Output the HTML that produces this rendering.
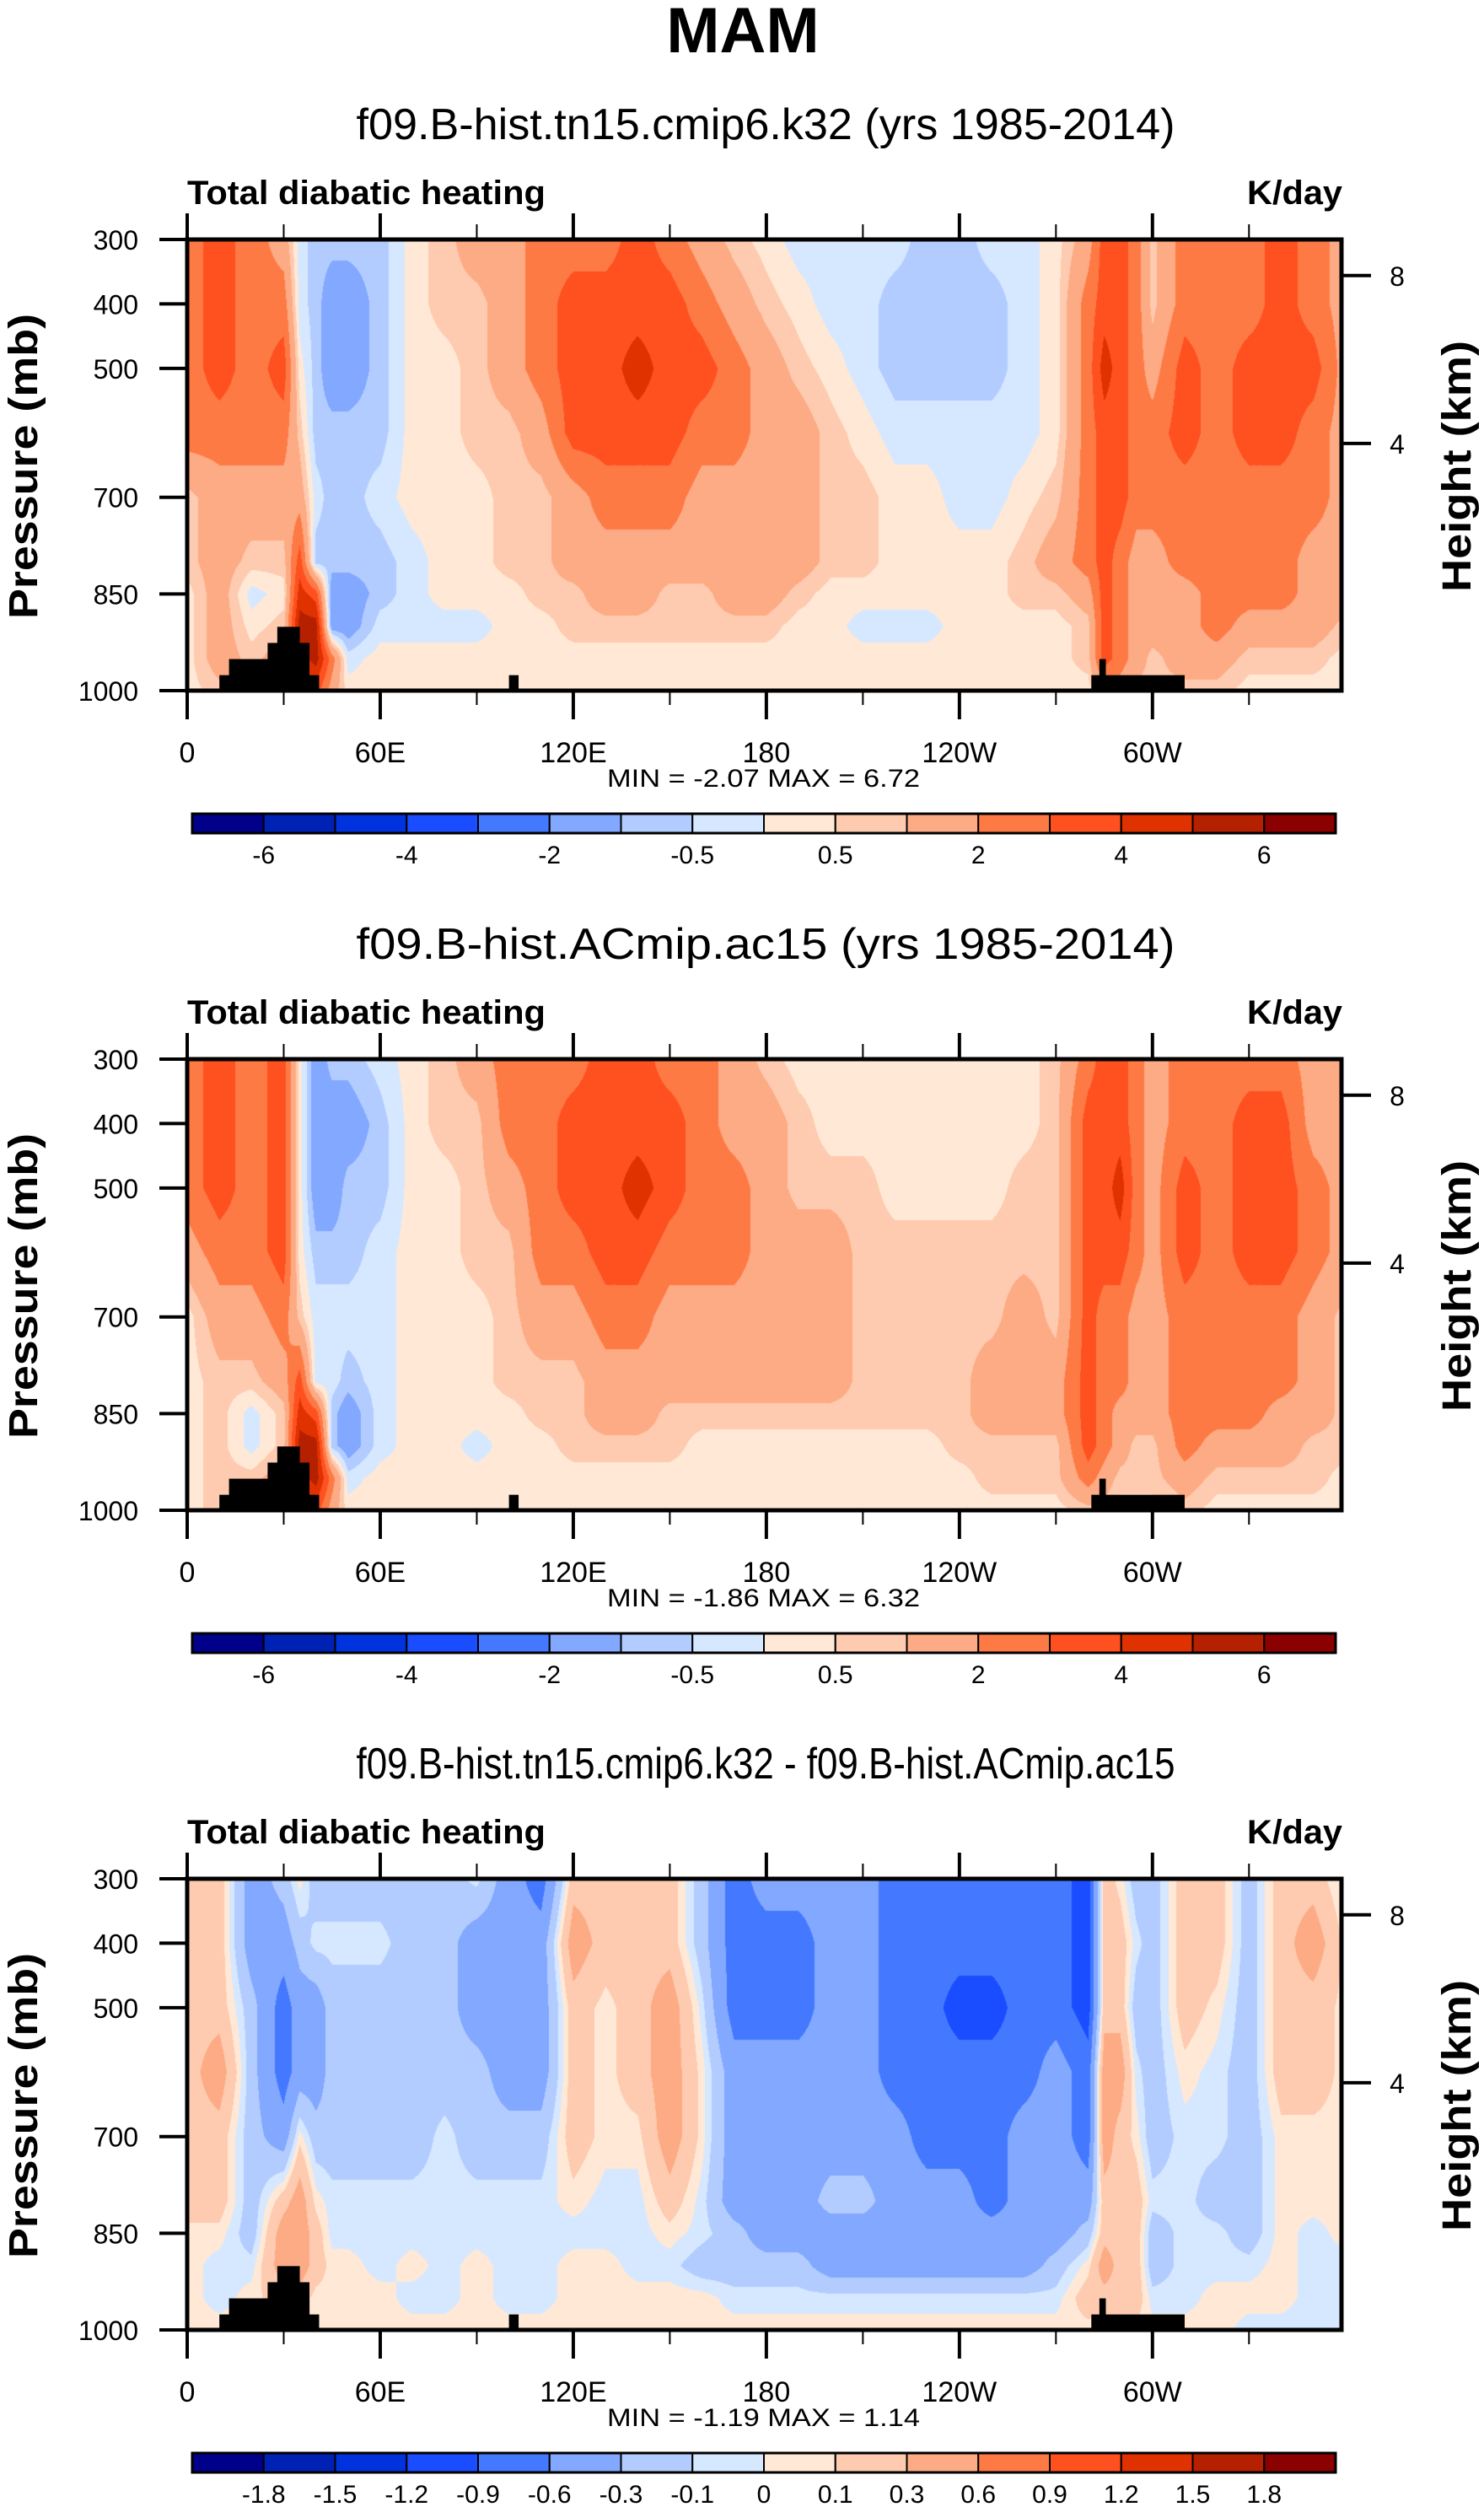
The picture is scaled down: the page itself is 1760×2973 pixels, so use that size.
<!DOCTYPE html>
<html><head><meta charset="utf-8">
<style>
html,body{margin:0;padding:0;background:#fff;}
body{width:1760px;height:2973px;overflow:hidden;position:relative;font-family:"Liberation Sans",sans-serif;}
canvas{position:absolute;}
svg{position:absolute;left:0;top:0;}
</style></head>
<body>
<canvas id="c0" width="1369" height="535" style="left:222px;top:284px"></canvas>
<canvas id="c1" width="1369" height="535" style="left:222px;top:1256px"></canvas>
<canvas id="c2" width="1369" height="535" style="left:222px;top:2228px"></canvas>
<svg id="ov" width="1760" height="2973">
<text x="881" y="62" text-anchor="middle" font-size="76" font-weight="bold" font-family="Liberation Sans, sans-serif">MAM</text>
</svg>
<script>
const lons=[0,10,20,30,35,40,45,50,60,70,80,90,100,110,120,130,140,150,160,170,180,190,200,210,220,230,240,250,260,270,280,285,290,295,300,310,320,330,340,350,360];
const pressures=[300,400,500,600,700,800,850,900,950,1000];
const heatCtl=[
[2.5,2.5,2.5,2.5,0.75,0.75,0.25,0.25,0.25,0.25],
[3.5,3.5,3.5,2.5,1.5,1.5,1.5,1.5,1.5,0.75],
[2.5,2.5,2.5,2.5,1.5,0.75,-0.25,0.25,0.75,0.75],
[1.5,2.5,3.5,2.5,1.5,0.75,0.25,0.75,1.5,1.5],
[-0.25,-0.25,0.25,0.75,1.5,3.5,4.5,5.5,4.5,2.5],
[-0.75,-0.75,-0.75,-0.75,-0.25,-0.75,3.5,5.5,5.5,3.5],
[-0.75,-1.5,-1.5,-0.75,-0.75,-0.75,-1.5,-1.5,2.5,1.5],
[-0.75,-1.5,-1.5,-0.75,-0.75,-0.75,-1.5,-1.5,-0.25,0.25],
[-0.75,-0.75,-0.75,-0.75,-0.25,-0.75,-0.75,-0.25,0.25,0.25],
[0.25,0.25,0.25,0.25,0.25,-0.25,-0.25,-0.25,0.25,0.25],
[0.75,0.75,0.25,0.25,0.25,0.25,0.25,-0.25,0.25,0.25],
[1.5,0.75,0.75,0.75,0.25,0.25,0.25,-0.25,0.25,0.25],
[1.5,1.5,1.5,0.75,0.75,0.75,0.25,0.25,0.25,0.25],
[2.5,2.5,2.5,1.5,0.75,0.75,0.75,0.25,0.25,0.25],
[2.5,3.5,3.5,3.5,1.5,1.5,0.75,0.75,0.25,0.25],
[2.5,3.5,3.5,3.5,2.5,1.5,1.5,0.75,0.25,0.25],
[3.5,3.5,4.5,3.5,2.5,1.5,1.5,0.75,0.25,0.25],
[2.5,3.5,3.5,3.5,2.5,1.5,0.75,0.75,0.25,0.25],
[1.5,2.5,3.5,2.5,1.5,1.5,0.75,0.75,0.25,0.25],
[0.75,1.5,2.5,2.5,1.5,1.5,1.5,0.75,0.25,0.25],
[0.25,0.75,1.5,1.5,1.5,1.5,1.5,0.75,0.25,0.25],
[-0.25,0.25,0.75,1.5,1.5,1.5,0.75,0.25,0.25,0.25],
[-0.25,-0.25,0.25,0.75,0.75,0.75,0.25,0.25,0.25,0.25],
[-0.25,-0.25,-0.25,0.25,0.75,0.75,0.25,-0.25,0.25,0.25],
[-0.25,-0.75,-0.75,-0.25,0.25,0.25,0.25,-0.25,0.25,0.25],
[-0.75,-0.75,-0.75,-0.25,0.25,0.25,0.25,-0.25,0.25,0.25],
[-0.75,-0.75,-0.75,-0.25,-0.25,0.25,0.25,0.25,0.25,0.25],
[-0.25,-0.75,-0.75,-0.25,-0.25,0.25,0.25,0.25,0.25,0.25],
[-0.25,-0.25,-0.25,-0.25,0.25,0.75,0.75,0.25,0.25,0.25],
[0.25,0.25,0.25,0.25,0.75,1.5,0.75,0.25,0.25,0.25],
[1.5,2.5,2.5,2.5,2.5,2.5,1.5,0.75,0.75,0.25],
[3.5,3.5,4.5,3.5,3.5,3.5,3.5,3.5,3.5,1.5],
[3.5,3.5,3.5,3.5,3.5,2.5,2.5,2.5,2.5,1.5],
[2.5,2.5,2.5,2.5,2.5,1.5,1.5,1.5,1.5,0.75],
[0.75,0.75,1.5,2.5,2.5,1.5,1.5,1.5,0.75,0.75],
[2.5,2.5,3.5,3.5,2.5,2.5,1.5,1.5,1.5,0.75],
[2.5,2.5,2.5,2.5,2.5,2.5,2.5,2.5,1.5,0.75],
[2.5,2.5,3.5,3.5,2.5,2.5,2.5,1.5,0.75,0.25],
[3.5,3.5,3.5,3.5,2.5,2.5,2.5,1.5,0.75,0.25],
[2.5,2.5,3.5,2.5,2.5,1.5,1.5,1.5,0.75,0.25],
[1.5,1.5,1.5,1.5,1.5,1.5,1.5,0.75,0.25,0.25]
];
const heatExp=[
[2.5,2.5,2.5,1.5,0.25,0.25,0.25,0.25,0.25,0.25],
[3.5,3.5,3.5,2.5,1.5,0.75,0.75,0.75,0.75,0.75],
[2.5,2.5,2.5,2.5,1.5,0.75,-0.25,-0.25,0.75,0.75],
[3.5,3.5,3.5,3.5,2.5,1.5,0.75,0.75,1.5,1.5],
[0.25,0.25,0.25,0.25,0.75,3.5,4.5,5.5,4.5,2.5],
[-1.5,-1.5,-1.5,-0.75,-0.25,-0.25,3.5,5.5,5.5,3.5],
[-0.75,-1.5,-1.5,-0.75,-0.25,-0.25,-0.75,-0.75,2.5,1.5],
[-0.75,-1.5,-0.75,-0.75,-0.25,-0.75,-1.5,-1.5,-0.25,0.25],
[-0.25,-0.75,-0.75,-0.25,-0.25,-0.25,-0.25,-0.25,0.25,0.25],
[0.25,0.25,0.25,0.25,0.25,0.25,0.25,0.25,0.25,0.25],
[0.75,0.75,0.25,0.25,0.25,0.25,0.25,0.25,0.25,0.25],
[1.5,0.75,0.75,0.75,0.25,0.25,0.25,-0.25,0.25,0.25],
[2.5,2.5,1.5,0.75,0.75,0.75,0.25,0.25,0.25,0.25],
[2.5,2.5,2.5,2.5,1.5,0.75,0.75,0.25,0.25,0.25],
[2.5,3.5,3.5,2.5,1.5,0.75,0.75,0.75,0.25,0.25],
[3.5,3.5,3.5,3.5,2.5,1.5,1.5,0.75,0.25,0.25],
[3.5,3.5,4.5,3.5,2.5,1.5,1.5,0.75,0.25,0.25],
[2.5,3.5,3.5,2.5,1.5,1.5,0.75,0.75,0.25,0.25],
[2.5,2.5,2.5,2.5,1.5,1.5,0.75,0.25,0.25,0.25],
[1.5,1.5,2.5,2.5,1.5,1.5,0.75,0.25,0.25,0.25],
[0.75,1.5,1.5,1.5,1.5,1.5,0.75,0.25,0.25,0.25],
[0.25,0.75,0.75,1.5,1.5,1.5,0.75,0.25,0.25,0.25],
[0.25,0.25,0.75,1.5,1.5,1.5,0.75,0.25,0.25,0.25],
[0.25,0.25,0.75,0.75,0.75,0.75,0.75,0.25,0.25,0.25],
[0.25,0.25,0.25,0.75,0.75,0.75,0.75,0.25,0.25,0.25],
[0.25,0.25,0.25,0.75,0.75,0.75,0.75,0.25,0.25,0.25],
[0.25,0.25,0.25,0.75,0.75,0.75,0.75,0.75,0.25,0.25],
[0.25,0.25,0.25,0.75,0.75,1.5,1.5,0.75,0.75,0.25],
[0.25,0.25,0.75,0.75,1.5,1.5,1.5,0.75,0.75,0.25],
[0.75,0.75,0.75,0.75,0.75,1.5,1.5,0.75,0.75,0.25],
[2.5,3.5,3.5,3.5,3.5,3.5,3.5,3.5,2.5,0.75],
[3.5,3.5,3.5,3.5,2.5,2.5,2.5,2.5,1.5,0.75],
[3.5,3.5,4.5,3.5,2.5,2.5,1.5,1.5,0.75,0.25],
[2.5,2.5,2.5,2.5,1.5,1.5,1.5,0.75,0.75,0.25],
[1.5,1.5,1.5,1.5,1.5,1.5,1.5,0.75,0.75,0.25],
[2.5,2.5,3.5,3.5,2.5,2.5,2.5,2.5,1.5,0.75],
[2.5,2.5,2.5,2.5,2.5,2.5,2.5,1.5,0.75,0.25],
[2.5,3.5,3.5,3.5,2.5,2.5,2.5,1.5,0.75,0.25],
[2.5,3.5,3.5,3.5,2.5,2.5,1.5,1.5,0.75,0.25],
[1.5,1.5,2.5,2.5,1.5,1.5,1.5,0.75,0.75,0.25],
[1.5,1.5,1.5,1.5,0.75,0.75,0.75,0.75,0.25,0.25]
];
const heatDiff=[
[0.2,0.2,0.2,0.2,0.2,0.2,0.05,0.05,0.05,0.05],
[0.2,0.2,0.2,0.45,0.2,0.2,0.05,-0.05,-0.05,0.05],
[-0.45,-0.45,-0.2,-0.2,-0.2,-0.2,-0.2,-0.05,0.05,0.05],
[-0.2,-0.45,-0.75,-0.75,-0.45,0.2,0.45,0.45,0.2,0.2],
[0.05,-0.2,-0.45,-0.45,0.05,0.45,0.45,0.45,0.2,0.2],
[-0.2,-0.05,-0.45,-0.45,-0.2,0.05,0.2,0.2,0.05,0.05],
[-0.2,-0.05,-0.2,-0.2,-0.2,-0.05,-0.05,0.05,0.05,0.05],
[-0.2,-0.05,-0.2,-0.2,-0.2,-0.05,-0.05,0.05,0.05,0.05],
[-0.2,-0.05,-0.2,-0.2,-0.2,-0.05,-0.05,-0.05,0.05,0.05],
[-0.2,-0.2,-0.2,-0.2,-0.2,-0.05,-0.05,0.05,-0.05,0.05],
[-0.2,-0.2,-0.2,-0.2,-0.05,-0.05,-0.05,-0.05,-0.05,0.05],
[-0.05,-0.45,-0.45,-0.2,-0.2,-0.05,-0.05,0.05,0.05,0.05],
[-0.45,-0.45,-0.45,-0.45,-0.2,-0.05,-0.05,-0.05,-0.05,0.05],
[-0.75,-0.45,-0.45,-0.45,-0.2,-0.05,-0.05,-0.05,-0.05,0.05],
[0.2,0.45,0.2,0.2,0.2,0.05,-0.05,0.05,0.05,0.05],
[0.2,0.2,0.05,0.05,0.05,-0.05,-0.05,0.05,0.05,0.05],
[0.2,0.2,0.2,0.2,0.05,-0.05,-0.05,-0.05,0.05,0.05],
[0.2,0.2,0.45,0.45,0.45,0.2,0.05,-0.05,0.05,0.05],
[-0.2,-0.2,-0.05,0.05,0.05,-0.05,-0.05,-0.2,0.05,0.05],
[-0.75,-0.75,-0.75,-0.45,-0.45,-0.45,-0.2,-0.2,-0.05,0.05],
[-0.45,-0.75,-0.75,-0.45,-0.45,-0.45,-0.45,-0.2,-0.05,0.05],
[-0.45,-0.75,-0.75,-0.45,-0.45,-0.45,-0.45,-0.2,-0.05,0.05],
[-0.45,-0.45,-0.45,-0.45,-0.45,-0.2,-0.45,-0.45,-0.05,0.05],
[-0.45,-0.45,-0.45,-0.45,-0.45,-0.2,-0.45,-0.45,-0.05,0.05],
[-0.75,-0.75,-0.75,-0.75,-0.45,-0.45,-0.45,-0.45,-0.05,0.05],
[-0.75,-0.75,-0.75,-0.75,-0.75,-0.45,-0.45,-0.45,-0.05,0.05],
[-0.75,-0.75,-1.05,-0.75,-0.75,-0.45,-0.45,-0.45,-0.05,0.05],
[-0.75,-0.75,-1.05,-0.75,-0.75,-0.75,-0.45,-0.45,-0.05,0.05],
[-0.75,-0.75,-0.75,-0.75,-0.45,-0.45,-0.45,-0.45,-0.05,0.05],
[-0.75,-0.75,-0.75,-0.45,-0.45,-0.45,-0.45,-0.2,-0.05,0.05],
[-1.05,-1.05,-1.05,-0.75,-0.75,-0.45,-0.2,0.05,0.2,0.05],
[0.2,0.2,0.2,0.45,0.45,0.2,0.2,0.45,0.2,0.05],
[0.05,0.2,0.2,0.45,0.2,0.2,0.2,0.2,0.2,0.05],
[-0.2,-0.05,-0.2,-0.05,0.05,0.2,0.2,0.2,0.2,0.05],
[-0.2,-0.2,-0.2,-0.2,-0.2,-0.05,-0.2,-0.2,-0.05,0.05],
[0.2,0.2,0.2,0.05,-0.05,-0.05,-0.05,-0.05,-0.05,0.05],
[0.2,0.2,0.05,-0.05,-0.05,-0.2,-0.05,-0.05,0.05,0.05],
[-0.2,-0.2,-0.2,-0.2,-0.2,-0.2,-0.2,-0.05,0.05,-0.05],
[0.2,0.2,0.2,0.2,0.05,0.05,0.05,0.05,0.05,-0.05],
[0.2,0.45,0.2,0.2,0.05,0.05,-0.05,-0.05,-0.05,-0.05],
[-0.05,0.05,0.05,0.05,0.05,0.05,0.05,-0.05,-0.05,-0.05]
];
const levelsFull=[-6,-5,-4,-3,-2,-1,-0.5,0,0.5,1,2,3,4,5,6];
const levelsDiff=[-1.8,-1.5,-1.2,-0.9,-0.6,-0.3,-0.1,0,0.1,0.3,0.6,0.9,1.2,1.5,1.8];
const colors=['#00008a','#0022b4','#0033dd','#1a4dff','#4479ff','#82a8ff','#b3ccff','#d6e8ff','#ffe9d6','#fecbb0','#fdab85','#fe7a45','#ff5020','#e03200','#b52000','#8b0000'];
const landBlocks=[[10,41,976],[13,38,951],[25,38,926],[28,35,901],[100,103,976],[281,310,976],[283.5,285.5,951]];
const xTickLons=[0,60,120,180,240,300];
const xTickLabels=['0','60E','120E','180','120W','60W'];
const xMinorLons=[30,90,150,210,270,330];
const yTickP=[300,400,500,700,850,1000];
const heightTicks=[8,4];
const panelTitles=['f09.B-hist.tn15.cmip6.k32 (yrs 1985-2014)','f09.B-hist.ACmip.ac15 (yrs 1985-2014)','f09.B-hist.tn15.cmip6.k32 - f09.B-hist.ACmip.ac15'];
const minVals=['-2.07','-1.86','-1.19'];
const maxVals=['6.72','6.32','1.14'];

const PX=222, PW=1369, PH=535, TOP0=284, DY=972, LONMAX=358.75;
function xOf(lon){return PX+lon*PW/LONMAX;}
function yOf(p,top){return top+(p-300)*PH/700;}
function hToP(km){return 1013.25*Math.pow(1-2.25577e-5*km*1000,5.25588);}
function hexRgb(h){return [parseInt(h.substr(1,2),16),parseInt(h.substr(3,2),16),parseInt(h.substr(5,2),16)];}
const rgb=colors.map(hexRgb);
function cls(v,lv){let i=0;while(i<lv.length&&v>=lv[i])i++;return i;}
function seg(arr,v){let i=0;while(i<arr.length-2&&v>arr[i+1])i++;const t=(v-arr[i])/(arr[i+1]-arr[i]);return [i,Math.max(0,Math.min(1,t))];}

function drawField(cid,field,lv){
  const cv=document.getElementById(cid),ctx=cv.getContext('2d');
  const img=ctx.createImageData(PW,PH);
  const cx=[];for(let x=0;x<PW;x++){cx.push(seg(lons,(x+0.5)*LONMAX/PW));}
  const ry=[];for(let y=0;y<PH;y++){ry.push(seg(pressures,300+(y+0.5)*700/PH));}
  for(let y=0;y<PH;y++){const [j,u]=ry[y];
    for(let x=0;x<PW;x++){const [i,t]=cx[x];
      const v=(1-t)*((1-u)*field[i][j]+u*field[i][j+1])+t*((1-u)*field[i+1][j]+u*field[i+1][j+1]);
      const c=rgb[cls(v,lv)];const k=(y*PW+x)*4;
      img.data[k]=c[0];img.data[k+1]=c[1];img.data[k+2]=c[2];img.data[k+3]=255;}}
  ctx.putImageData(img,0,0);
}
drawField('c0',heatCtl,levelsFull);
drawField('c1',heatExp,levelsFull);
drawField('c2',heatDiff,levelsDiff);

const NS='http://www.w3.org/2000/svg';
const ov=document.getElementById('ov');
function mk(tag,attrs,txt){const e=document.createElementNS(NS,tag);for(const k in attrs)e.setAttribute(k,attrs[k]);if(txt!==undefined)e.textContent=txt;ov.appendChild(e);return e;}
const FF='Liberation Sans, sans-serif';
for(let p=0;p<3;p++){
  const top=TOP0+p*DY, off=p*DY;
  const lv=p<2?levelsFull:levelsDiff, stride=p<2?2:1;
  let e;
  e=mk('text',{x:908,y:165+off,'text-anchor':'middle','font-size':52,'font-family':FF,textLength:971,lengthAdjust:'spacingAndGlyphs'},panelTitles[p]);
  
  
  e=mk('text',{x:222,y:242+off,'font-size':40,'font-weight':'bold','font-family':FF,textLength:425,lengthAdjust:'spacingAndGlyphs'},'Total diabatic heating');
  
  
  e=mk('text',{x:1592,y:242+off,'text-anchor':'end','font-size':40,'font-weight':'bold','font-family':FF,textLength:113,lengthAdjust:'spacingAndGlyphs'},'K/day');
  
  
  for(const b of landBlocks){
    e=mk('rect',{x:xOf(b[0]),y:yOf(b[2],top),width:xOf(b[1])-xOf(b[0]),height:yOf(1000,top)-yOf(b[2],top),fill:'#000'});
    
    
  }
  e=mk('rect',{x:PX,y:top,width:PW,height:PH,fill:'none',stroke:'#000','stroke-width':5});
  
  
  xTickLons.forEach((lon,i)=>{
    const x=xOf(lon);
    e=mk('line',{x1:x,x2:x,y1:top-31,y2:top,stroke:'#000','stroke-width':4});
    
    
    e=mk('line',{x1:x,x2:x,y1:top+PH,y2:top+PH+34,stroke:'#000','stroke-width':4});
    
    
    e=mk('text',{x:x,y:top+620,'text-anchor':'middle','font-size':34,'font-family':FF},xTickLabels[i]);
    
    
  });
  xMinorLons.forEach(lon=>{
    const x=xOf(lon);
    e=mk('line',{x1:x,x2:x,y1:top-18,y2:top,stroke:'#000','stroke-width':2});
    
    
    e=mk('line',{x1:x,x2:x,y1:top+PH,y2:top+PH+17,stroke:'#000','stroke-width':2});
    
    
  });
  yTickP.forEach(pr=>{
    const y=yOf(pr,top);
    e=mk('line',{x1:189,x2:PX,y1:y,y2:y,stroke:'#000','stroke-width':4});
    
    
    e=mk('text',{x:164,y:y+12,'text-anchor':'end','font-size':32,'font-family':FF},String(pr));
    
    
  });
  heightTicks.forEach(km=>{
    const y=yOf(hToP(km),top);
    e=mk('line',{x1:PX+PW,x2:1626,y1:y,y2:y,stroke:'#000','stroke-width':4});
    
    
    e=mk('text',{x:1657,y:y+12,'text-anchor':'middle','font-size':32,'font-family':FF},String(km));
    
    
  });
  e=mk('text',{x:0,y:0,transform:'translate(44,'+(553+off)+') rotate(-90)','text-anchor':'middle','font-size':48,'font-weight':'bold','font-family':FF,textLength:362,lengthAdjust:'spacingAndGlyphs'},'Pressure (mb)');
  
  
  e=mk('text',{x:0,y:0,transform:'translate(1744,'+(553+off)+') rotate(-90)','text-anchor':'middle','font-size':48,'font-weight':'bold','font-family':FF,textLength:298,lengthAdjust:'spacingAndGlyphs'},'Height (km)');
  
  
  e=mk('text',{x:720,y:933+off,'font-size':30,'font-family':FF,textLength:371,lengthAdjust:'spacingAndGlyphs','xml:space':'preserve'},'MIN = '+minVals[p]+'  MAX = '+maxVals[p]);
  
  
  const cbx=228,cbw=1356,cby=965+off,cbh=23,bw=cbw/16;
  colors.forEach((c,i)=>{
    e=mk('rect',{x:cbx+i*bw,y:cby,width:bw,height:cbh,fill:c,stroke:'#000','stroke-width':2});
    
    
  });
  e=mk('rect',{x:cbx,y:cby,width:cbw,height:cbh,fill:'none',stroke:'#000','stroke-width':3});
  
  
  lv.forEach((v,i)=>{
    if(i%stride!==0)return;
    e=mk('text',{x:cbx+(i+1)*bw,y:1024+off,'text-anchor':'middle','font-size':30,'font-family':FF},String(v));
    
    
  });
}
</script>
</body></html>
